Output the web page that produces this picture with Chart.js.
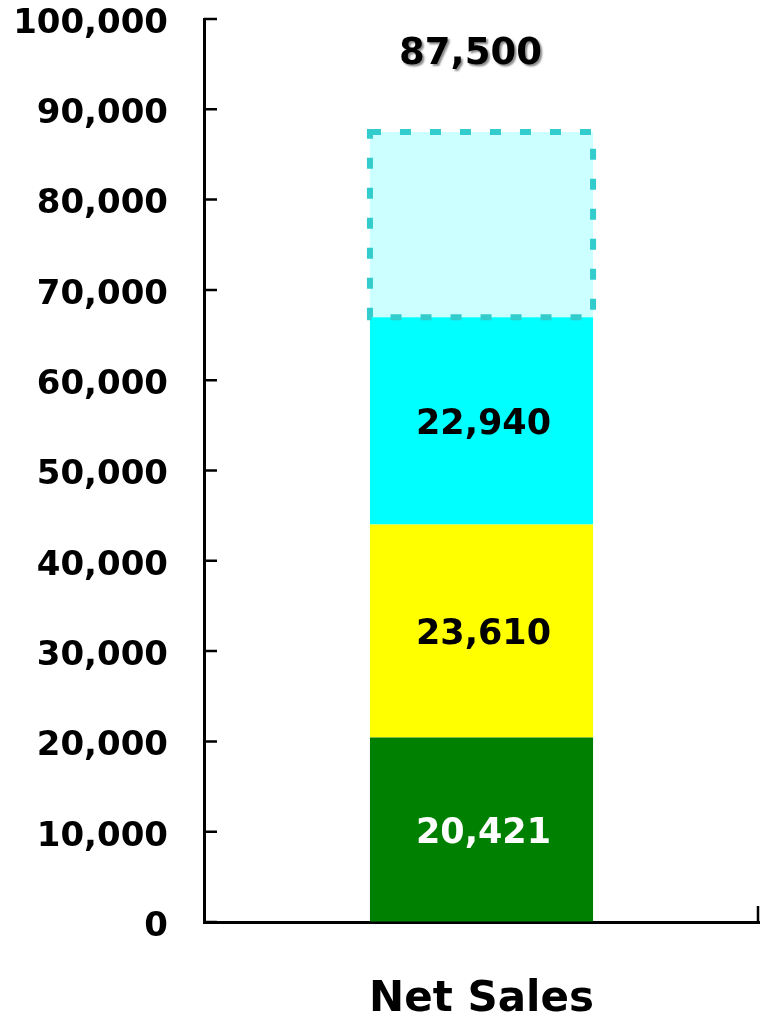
<!DOCTYPE html>
<html>
<head>
<meta charset="utf-8">
<script src="https://cdn.jsdelivr.net/npm/chart.js@4.4.1/dist/chart.umd.min.js"></script>
<style>
  html, body { margin: 0; padding: 0; background: #fff; }
  #wrap { width: 760px; height: 1015px; position: relative; }
</style>
</head>
<body>
<div id="wrap"><canvas id="salesChart"></canvas></div>
<script>
  const categories = ["Net Sales"];
  const segA = [20421];
  const segB = [23610];
  const segC = [22940];
  const target = [87500];
  const yMin = 0;
  const yMax = 100000;
  const yStep = 10000;

  // gap between the achieved segments and the target
  const remaining = target.map((t, i) => t - segA[i] - segB[i] - segC[i]);

  const FONT = "'DejaVu Sans', Verdana, sans-serif";
  const fmt = (v) => v.toLocaleString("en-US");

  // dashed outline around the target remainder, value labels and total
  const barDecor = {
    id: "barDecor",
    afterDatasetsDraw(chart) {
      const ctx = chart.ctx;
      const gapMeta = chart.getDatasetMeta(3);
      gapMeta.data.forEach((bar) => {
        const left = bar.x - bar.width / 2;
        const w = bar.width;
        ctx.save();
        ctx.strokeStyle = "#33CCCC";
        ctx.lineWidth = 6;
        ctx.setLineDash([11, 19]);
        ctx.strokeRect(left, bar.y, w, bar.base - bar.y);
        ctx.restore();
      });

      ctx.save();
      ctx.textAlign = "center";
      ctx.textBaseline = "middle";
      ctx.font = "bold 35px " + FONT;
      [0, 1, 2].forEach((di) => {
        const ds = chart.data.datasets[di];
        chart.getDatasetMeta(di).data.forEach((bar, i) => {
          ctx.fillStyle = ds.labelColor;
          ctx.fillText(fmt(ds.data[i]), bar.x + 2, (bar.y + bar.base) / 2 + 4);
        });
      });

      // total on top, with a soft grey shadow
      gapMeta.data.forEach((bar, i) => {
        ctx.font = "bold 37px " + FONT;
        ctx.shadowColor = "rgba(0,0,0,0.45)";
        ctx.shadowOffsetX = 2;
        ctx.shadowOffsetY = 2;
        ctx.shadowBlur = 2;
        ctx.fillStyle = "#000";
        ctx.fillText(fmt(target[i]), bar.x - 11, bar.y - 77);
      });
      ctx.restore();
    }
  };

  // short tick marks pointing into the plot area
  const innerTicks = {
    id: "innerTicks",
    afterDraw(chart) {
      const ctx = chart.ctx;
      const ys = chart.scales.y;
      const area = chart.chartArea;
      ctx.save();
      ctx.strokeStyle = "#000";
      ctx.lineWidth = 2.5;
      ctx.beginPath();
      ys.ticks.forEach((t) => {
        const py = ys.getPixelForValue(t.value);
        ctx.moveTo(area.left, py);
        ctx.lineTo(area.left + 13, py);
      });
      ctx.moveTo(area.right - 1, area.bottom);
      ctx.lineTo(area.right - 1, area.bottom - 16);
      ctx.stroke();
      ctx.restore();
    }
  };

  new Chart(document.getElementById("salesChart"), {
    type: "bar",
    data: {
      labels: categories,
      datasets: [
        { data: segA, backgroundColor: "#008000", labelColor: "#fff" },
        { data: segB, backgroundColor: "#FFFF00", labelColor: "#000" },
        { data: segC, backgroundColor: "#00FFFF", labelColor: "#000" },
        { data: remaining, backgroundColor: "#CCFFFF" }
      ]
    },
    options: {
      responsive: true,
      maintainAspectRatio: false,
      animation: false,
      layout: { padding: { top: 19, right: 1, left: 0, bottom: 0 } },
      datasets: {
        bar: { barPercentage: 0.402, categoryPercentage: 1, borderWidth: 0 }
      },
      plugins: { legend: { display: false }, tooltip: { enabled: false } },
      scales: {
        x: {
          stacked: true,
          grid: { display: true, drawOnChartArea: false, drawTicks: false },
          border: { display: true, color: "#000", width: 3 },
          ticks: {
            color: "#000",
            padding: 53,
            font: { family: FONT, size: 42, weight: "bold" }
          },
          afterFit(scale) {
            scale.height = 93;
            scale.paddingLeft = 0;
            scale.paddingRight = 0;
          }
        },
        y: {
          stacked: true,
          min: yMin,
          max: yMax,
          grid: { display: true, drawOnChartArea: false, drawTicks: false },
          border: { display: true, color: "#000", width: 3 },
          ticks: {
            stepSize: yStep,
            color: "#000",
            padding: 36,
            labelOffset: 5,
            font: { family: FONT, size: 34, weight: "bold" },
            callback: (v) => fmt(v)
          },
          afterFit(scale) {
            scale.width = 204;
            scale.paddingTop = 0;
            scale.paddingBottom = 0;
          }
        }
      }
    },
    plugins: [barDecor, innerTicks]
  });
</script>
</body>
</html>
